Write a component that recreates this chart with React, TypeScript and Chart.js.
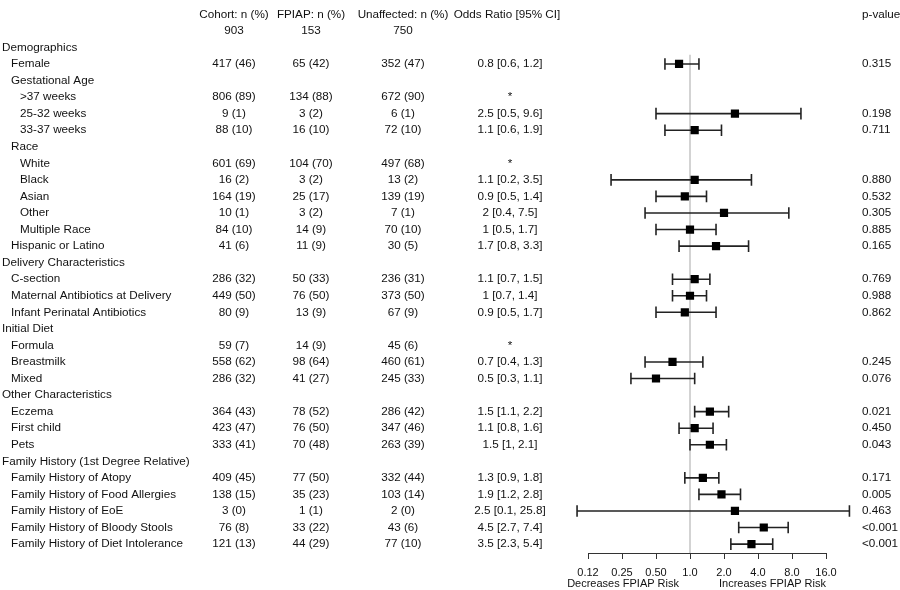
import React, { useEffect, useRef } from "react";
import { Chart, registerables } from "chart.js";

Chart.register(...registerables);

const headers = ["Cohort: n (%)", "FPIAP: n (%)", "Unaffected: n (%)", "Odds Ratio [95% CI]", "p-value"];
const totals = ["903", "153", "750"];

const labels = [
  "Demographics", "Female", "Gestational Age", ">37 weeks", "25-32 weeks", "33-37 weeks",
  "Race", "White", "Black", "Asian", "Other", "Multiple Race", "Hispanic or Latino",
  "Delivery Characteristics", "C-section", "Maternal Antibiotics at Delivery", "Infant Perinatal Antibiotics",
  "Initial Diet", "Formula", "Breastmilk", "Mixed",
  "Other Characteristics", "Eczema", "First child", "Pets",
  "Family History (1st Degree Relative)", "Family History of Atopy", "Family History of Food Allergies",
  "Family History of EoE", "Family History of Bloody Stools", "Family History of Diet Intolerance",
];
const levels = [0, 1, 1, 2, 2, 2, 1, 2, 2, 2, 2, 2, 1, 0, 1, 1, 1, 0, 1, 1, 1, 0, 1, 1, 1, 0, 1, 1, 1, 1, 1];

const cohort = [
  "", "417 (46)", "", "806 (89)", "9 (1)", "88 (10)", "", "601 (69)", "16 (2)", "164 (19)", "10 (1)", "84 (10)", "41 (6)",
  "", "286 (32)", "449 (50)", "80 (9)", "", "59 (7)", "558 (62)", "286 (32)", "", "364 (43)", "423 (47)", "333 (41)",
  "", "409 (45)", "138 (15)", "3 (0)", "76 (8)", "121 (13)",
];
const fpiap = [
  "", "65 (42)", "", "134 (88)", "3 (2)", "16 (10)", "", "104 (70)", "3 (2)", "25 (17)", "3 (2)", "14 (9)", "11 (9)",
  "", "50 (33)", "76 (50)", "13 (9)", "", "14 (9)", "98 (64)", "41 (27)", "", "78 (52)", "76 (50)", "70 (48)",
  "", "77 (50)", "35 (23)", "1 (1)", "33 (22)", "44 (29)",
];
const unaffected = [
  "", "352 (47)", "", "672 (90)", "6 (1)", "72 (10)", "", "497 (68)", "13 (2)", "139 (19)", "7 (1)", "70 (10)", "30 (5)",
  "", "236 (31)", "373 (50)", "67 (9)", "", "45 (6)", "460 (61)", "245 (33)", "", "286 (42)", "347 (46)", "263 (39)",
  "", "332 (44)", "103 (14)", "2 (0)", "43 (6)", "77 (10)",
];
const oddsRatio: (number | null)[] = [
  null, 0.8, null, null, 2.5, 1.1, null, null, 1.1, 0.9, 2, 1, 1.7,
  null, 1.1, 1, 0.9, null, null, 0.7, 0.5, null, 1.5, 1.1, 1.5,
  null, 1.3, 1.9, 2.5, 4.5, 3.5,
];
const ciLow: (number | null)[] = [
  null, 0.6, null, null, 0.5, 0.6, null, null, 0.2, 0.5, 0.4, 0.5, 0.8,
  null, 0.7, 0.7, 0.5, null, null, 0.4, 0.3, null, 1.1, 0.8, 1,
  null, 0.9, 1.2, 0.1, 2.7, 2.3,
];
const ciHigh: (number | null)[] = [
  null, 1.2, null, null, 9.6, 1.9, null, null, 3.5, 1.4, 7.5, 1.7, 3.3,
  null, 1.5, 1.4, 1.7, null, null, 1.3, 1.1, null, 2.2, 1.6, 2.1,
  null, 1.8, 2.8, 25.8, 7.4, 5.4,
];
const pValues = [
  "", "0.315", "", "", "0.198", "0.711", "", "", "0.880", "0.532", "0.305", "0.885", "0.165",
  "", "0.769", "0.988", "0.862", "", "", "0.245", "0.076", "", "0.021", "0.450", "0.043",
  "", "0.171", "0.005", "0.463", "<0.001", "<0.001",
];

const tickValues = [0.125, 0.25, 0.5, 1, 2, 4, 8, 16];
const tickLabels = ["0.12", "0.25", "0.50", "1.0", "2.0", "4.0", "8.0", "16.0"];
const directionLabels = ["Decreases FPIAP Risk", "Increases FPIAP Risk"];

const FONT = '"Liberation Sans", Arial, Helvetica, sans-serif';
const ROW0 = 2;
const Y_MIN = -0.4172;
const Y_MAX = 32.539;
const REF_LINE_TOP = 2.45;

export default function App() {
  const ref = useRef<HTMLCanvasElement>(null);

  useEffect(() => {
    document.body.style.margin = "0";
    const canvas = ref.current;
    if (!canvas) return;

    const rowY = labels.map((_, k) => k + ROW0);
    const estIdx = oddsRatio.map((v, k) => (v == null ? -1 : k)).filter((k) => k >= 0);

    const squares = {
      type: "scatter",
      data: estIdx.map((k) => ({ x: oddsRatio[k], y: rowY[k] })),
      pointStyle: "rect",
      pointRadius: 5.8,
      backgroundColor: "#000",
      borderWidth: 0,
      showLine: false,
    };
    const caps = {
      type: "scatter",
      data: estIdx.flatMap((k) => [
        { x: ciLow[k], y: rowY[k] },
        { x: ciHigh[k], y: rowY[k] },
      ]),
      pointStyle: "line",
      rotation: 90,
      pointRadius: 5.8,
      borderColor: "#222",
      borderWidth: 1.6,
      showLine: false,
    };
    const whiskers = estIdx.map((k) => ({
      type: "scatter",
      data: [
        { x: ciLow[k], y: rowY[k] },
        { x: ciHigh[k], y: rowY[k] },
      ],
      showLine: true,
      borderColor: "#222",
      borderWidth: 1.6,
      pointRadius: 0,
    }));
    const refLine = {
      type: "scatter",
      data: [
        { x: 1, y: REF_LINE_TOP },
        { x: 1, y: Y_MAX },
      ],
      showLine: true,
      borderColor: "#c4c4c4",
      borderWidth: 1.5,
      pointRadius: 0,
    };

    const tablePlugin = {
      id: "forestTable",
      afterDraw(chart: any) {
        const ctx = chart.ctx as CanvasRenderingContext2D;
        const ys = chart.scales.y;
        const xs = chart.scales.x;
        ctx.save();
        ctx.fillStyle = "#111";
        ctx.textBaseline = "middle";
        ctx.font = `11.7px ${FONT}`;

        const colCenters = [234, 311, 403];
        const orCenter = 510;
        const pLeft = 862;

        ctx.textAlign = "center";
        const yh = ys.getPixelForValue(0);
        const yt = ys.getPixelForValue(1);
        headers.slice(0, 3).forEach((h, i) => ctx.fillText(h, colCenters[i], yh));
        ctx.fillText(headers[3], 507, yh);
        totals.forEach((t, i) => ctx.fillText(t, colCenters[i], yt));
        ctx.textAlign = "left";
        ctx.fillText(headers[4], pLeft, yh);

        const indent = [2, 11, 20];
        labels.forEach((lab, k) => {
          const y = ys.getPixelForValue(rowY[k]);
          ctx.textAlign = "left";
          ctx.fillText(lab, indent[levels[k]], y);
          ctx.textAlign = "center";
          ctx.fillText(cohort[k], colCenters[0], y);
          ctx.fillText(fpiap[k], colCenters[1], y);
          ctx.fillText(unaffected[k], colCenters[2], y);
          let orText = "";
          if (oddsRatio[k] != null) orText = `${oddsRatio[k]} [${ciLow[k]}, ${ciHigh[k]}]`;
          else if (cohort[k]) orText = "*";
          ctx.fillText(orText, orCenter, y);
          ctx.textAlign = "left";
          ctx.fillText(pValues[k], pLeft, y);
        });

        const yb = Math.round(chart.chartArea.bottom) + 0.5;
        ctx.strokeStyle = "#333";
        ctx.lineWidth = 1;
        ctx.beginPath();
        ctx.moveTo(xs.getPixelForValue(tickValues[0]), yb);
        ctx.lineTo(xs.getPixelForValue(tickValues[tickValues.length - 1]), yb);
        ctx.stroke();

        ctx.font = `11px ${FONT}`;
        const x1 = xs.getPixelForValue(1);
        ctx.textAlign = "right";
        ctx.fillText(directionLabels[0], x1 - 11, 584);
        ctx.fillText(directionLabels[1], xs.getPixelForValue(tickValues[tickValues.length - 1]), 584);
        ctx.restore();
      },
    };

    const chart = new Chart(canvas, {
      type: "scatter",
      data: { datasets: [squares, caps, ...whiskers, refLine] as any },
      options: {
        animation: false,
        responsive: false,
        events: [],
        layout: { padding: { left: 520, right: 40, top: 0, bottom: 0 } },
        plugins: { legend: { display: false }, tooltip: { enabled: false } },
        scales: {
          x: {
            type: "logarithmic",
            min: 1 / 32,
            max: 32,
            position: "bottom",
            border: { display: false },
            grid: {
              display: true,
              drawOnChartArea: false,
              drawTicks: true,
              tickLength: 6,
              color: "#333",
              lineWidth: 1,
            },
            afterBuildTicks: (scale: any) => {
              scale.ticks = tickValues.map((v) => ({ value: v }));
            },
            afterFit: (scale: any) => {
              scale.height = 37;
            },
            ticks: {
              autoSkip: false,
              maxRotation: 0,
              padding: 7,
              color: "#111",
              font: { family: FONT, size: 11 },
              callback: (v: any) => {
                const i = tickValues.indexOf(Number(v));
                return i >= 0 ? tickLabels[i] : "";
              },
            },
          },
          y: {
            type: "linear",
            display: false,
            reverse: true,
            min: Y_MIN,
            max: Y_MAX,
          },
        },
      } as any,
      plugins: [tablePlugin],
    });

    return () => chart.destroy();
  }, []);

  return (
    <div style={{ position: "fixed", left: 0, top: 0, width: 900, height: 590, background: "#fff" }}>
      <canvas ref={ref} width={900} height={590} style={{ display: "block" }} />
    </div>
  );
}
